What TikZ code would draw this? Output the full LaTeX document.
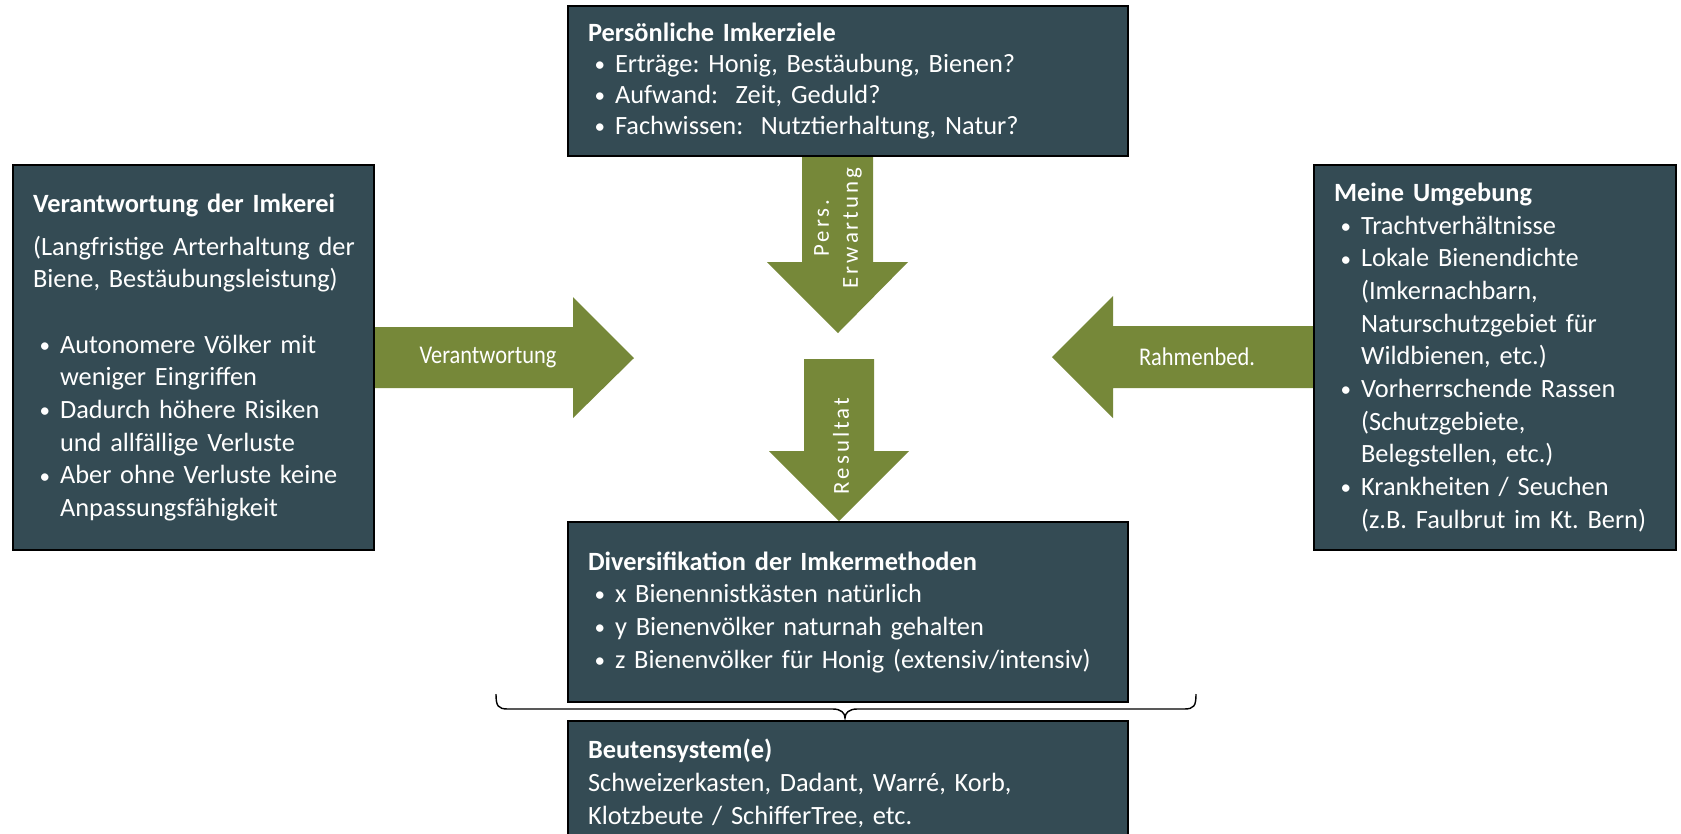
\documentclass[tikz,border=0pt]{standalone}
\usepackage{fontspec}
\setmainfont{Carlito}
\newfontfamily\spacedfont[LetterSpace=13]{Carlito}
\newfontfamily\narrowfont[FakeStretch=0.88]{Carlito}
\frenchspacing

\definecolor{boxslate}{RGB}{52,75,84}
\definecolor{arrowgreen}{RGB}{118,136,57}

% lines inside the boxes
\newcommand{\boxtitle}[1]{\mbox{\bfseries #1}\par}
\newcommand{\plainline}[1]{\mbox{#1}\par}
\newcommand{\bulletline}[1]{\mbox{\makebox[0.54cm][l]{\hspace{0.13cm}\raisebox{0.5pt}{\fontsize{12}{12}\selectfont\textbullet}}#1}\par}
\newcommand{\contline}[1]{\mbox{\hspace{0.54cm}#1}\par}

\begin{document}
\begin{tikzpicture}[x=0.02cm, y=-0.02cm,
    infobox/.style={draw=black, line width=1.2pt, fill=boxslate, text=white,
      anchor=north west, inner xsep=0.4cm, inner ysep=0pt, align=left,
      font=\fontsize{15}{18.6}\selectfont},
    arrowlabel/.style={text=white, inner sep=0pt,
      font=\narrowfont\fontsize{14.5}{16}\selectfont},
    turnlabel/.style={text=white, inner sep=0pt, rotate=90, align=center,
      font=\spacedfont\fontsize{13}{16.4}\selectfont}]

  \useasboundingbox (0,0) rectangle (1681,833);
  \clip (0,0) rectangle (1681,833);

  %%%%%%%%%%%%%%%%%%%%%%%%%%%%%%%%%%%%%%%%%%%%%%%%%
  % Block arrows
  \fill[arrowgreen] (368,327) -- (573,327) -- (573,297) -- (634,358)
    -- (573,418) -- (573,388) -- (368,388) -- cycle;
  \node[arrowlabel] (lblverantw) at (488,358) {Verantwortung};

  \fill[arrowgreen] (1318,326) -- (1113,326) -- (1113,296) -- (1052,357)
    -- (1113,418) -- (1113,388) -- (1318,388) -- cycle;
  \node[arrowlabel] (lblrahmen) at (1197,357) {Rahmenbed.};

  \fill[arrowgreen] (802,150) -- (802,262) -- (767,262) -- (838,333)
    -- (908,262) -- (873,262) -- (873,150) -- cycle;
  \node[turnlabel] (lblerwartung) at (838,228) {Pers.\\Erwartung};

  \fill[arrowgreen] (804,359) -- (804,451) -- (769,451) -- (839,521)
    -- (909,451) -- (874,451) -- (874,359) -- cycle;
  \node[turnlabel] (lblresultat) at (841,446) {Resultat};

  %%%%%%%%%%%%%%%%%%%%%%%%%%%%%%%%%%%%%%%%%%%%%%%%%
  % Boxes
  \node[infobox, minimum width=11.2cm, minimum height=3cm, text width=10.4cm,
    font=\fontsize{15}{17.6}\selectfont] (imkerziele) at (567,5) {%
    \boxtitle{Persönliche Imkerziele}
    \bulletline{Erträge: Honig, Bestäubung, Bienen?}
    \bulletline{Aufwand:\ \ Zeit, Geduld?}
    \bulletline{Fachwissen:\ \ Nutztierhaltung, Natur?}};

  \node[infobox, minimum width=7.22cm, minimum height=7.7cm, text width=6.42cm]
    (verantw) at (12,164) {%
    \boxtitle{Verantwortung der Imkerei}
    \vspace{0.2cm}
    \plainline{(Langfristige Arterhaltung der}
    \plainline{Biene, Bestäubungsleistung)}
    \plainline{}
    \bulletline{Autonomere Völker mit}
    \contline{weniger Eingriffen}
    \bulletline{Dadurch höhere Risiken}
    \contline{und allfällige Verluste}
    \bulletline{Aber ohne Verluste keine}
    \contline{Anpassungsfähigkeit}};

  \node[infobox, minimum width=7.24cm, minimum height=7.7cm, text width=6.44cm]
    (umgebung) at (1313,164) {%
    \boxtitle{Meine Umgebung}
    \bulletline{Trachtverhältnisse}
    \bulletline{Lokale Bienendichte}
    \contline{(Imkernachbarn,}
    \contline{Naturschutzgebiet für}
    \contline{Wildbienen, etc.)}
    \bulletline{Vorherrschende Rassen}
    \contline{(Schutzgebiete,}
    \contline{Belegstellen, etc.)}
    \bulletline{Krankheiten / Seuchen}
    \contline{(z.B. Faulbrut im Kt. Bern)}};

  \node[infobox, minimum width=11.2cm, minimum height=3.6cm, text width=10.4cm]
    (divers) at (567,521) {%
    \boxtitle{Diversifikation der Imkermethoden}
    \bulletline{x Bienennistkästen natürlich}
    \bulletline{y Bienenvölker naturnah gehalten}
    \bulletline{z Bienenvölker für Honig (extensiv/intensiv)}};

  \node[infobox, minimum width=11.2cm, minimum height=2.5cm, text width=10.4cm]
    (beuten) at (567,720) {%
    \boxtitle{Beutensystem(e)}
    \plainline{Schweizerkasten, Dadant, Warré, Korb,}
    \plainline{Klotzbeute / SchifferTree, etc.}};

  %%%%%%%%%%%%%%%%%%%%%%%%%%%%%%%%%%%%%%%%%%%%%%%%%
  % Brace between the two lower boxes
  \draw[line width=0.8pt] (496,694) .. controls (496,706) and (498,709) .. (508,709)
    -- (833,709) .. controls (841,709) and (845,713) .. (845,718)
    .. controls (845,713) and (849,709) .. (857,709)
    -- (1184,709) .. controls (1194,709) and (1196,706) .. (1196,694);

\end{tikzpicture}
\end{document}
